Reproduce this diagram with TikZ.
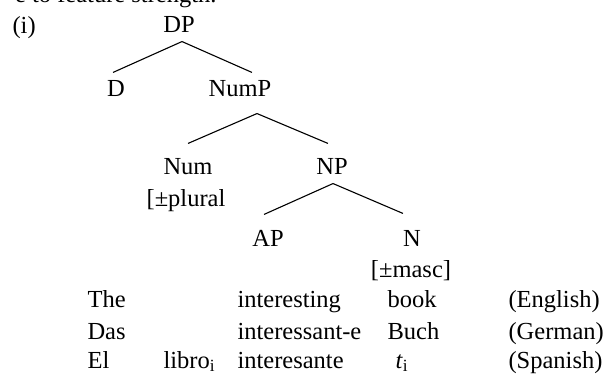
\documentclass[tikz,border=0pt]{standalone}
\usepackage{fontspec}
\setmainfont{Liberation Serif}
\usepackage{tikz}

\begin{document}
\begin{tikzpicture}[x=1pt, y=-1pt, line width=1.1pt,
  every node/.style={font=\fontsize{24.5pt}{31pt}\selectfont, inner sep=0pt},
  cat/.style={anchor=base, text height=20pt, text depth=4pt, inner ysep=4pt},
  word/.style={anchor=base west}]

\clip (0,0) rectangle (608,374);

\node[anchor=base east] (lead) at (217,3) {e to feature strength.};
\node[word] (ex) at (12,34) {(i)};

% tree
\node[cat] (DP) at (179,33) {DP};
\node[cat] (D) at (116,97) {D};
\node[cat] (NumP) at (240,97) {NumP};
\node[cat] (Num) at (188,175) {Num};
\node[anchor=base] (numfeat) at (186,207) {[±plural};
\node[cat] (NP) at (332,175) {NP};
\node[cat] (AP) at (268,247) {AP};
\node[cat] (N) at (412,247) {N};
\node[anchor=base] (nfeat) at (411,278) {[±masc]};

\draw ([xshift=3pt]DP.south) -- ([xshift=-3pt]D.north);
\draw ([xshift=3pt]DP.south) -- ([xshift=12pt]NumP.north);
\draw ([xshift=17pt,yshift=-8pt]NumP.south) -- ([yshift=7pt]Num.north);
\draw ([xshift=17pt,yshift=-8pt]NumP.south) -- ([xshift=-4pt,yshift=7pt]NP.north);
\draw ([xshift=1pt]NP.south) -- ([xshift=-4pt,yshift=8pt]AP.north);
\draw ([xshift=1pt]NP.south) -- ([xshift=-9pt,yshift=9pt]N.north);

% examples
\foreach \d/\a/\n/\nx/\lang/\y in {The/interesting/book/387/(English)/308,
    Das/interessant-e/Buch/387/(German)/339,
    El/interesante/\textit{t}\textsubscript{i}/395/(Spanish)/368}{
  \node[word] (det-\y) at (87,\y) {\d};
  \node[word] (adj-\y) at (237,\y) {\a};
  \node[word] (noun-\y) at (\nx,\y) {\n};
  \node[word] (lang-\y) at (508,\y) {\lang};
}
\node[word] (libro) at (163,368) {libro\textsubscript{i}};

\end{tikzpicture}
\end{document}
